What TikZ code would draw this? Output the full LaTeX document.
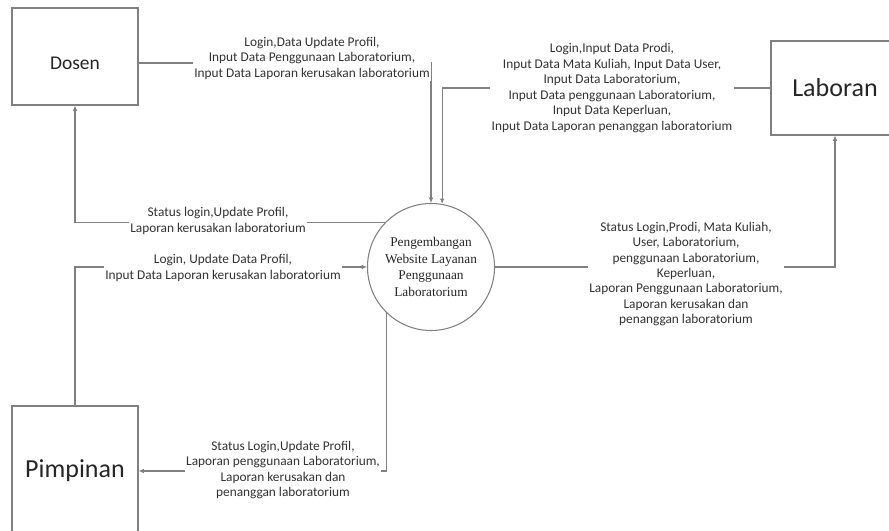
\documentclass[tikz,border=0pt]{standalone}
\usepackage{fontspec}
\setmainfont{Carlito}
\newfontfamily\procfont{Liberation Serif}
\usetikzlibrary{arrows.meta}

\begin{document}
\begin{tikzpicture}[x=0.75pt, y=-0.75pt,
    entity/.style={draw=black!50, line width=0.8pt, text=black!85},
    flow/.style={-{Latex[length=4pt,width=3.5pt]}, draw=black!50, line width=0.8pt},
    lbl/.style={fill=white, inner sep=1pt, align=center, text=black!80,
        font=\fontsize{10}{11.6}\selectfont}]
    \useasboundingbox (0,0) rectangle (889,531);

    % Entities
    \node[entity, minimum width=94.5pt, minimum height=72.75pt, text height=19pt, font=\fontsize{14.6}{17}\selectfont] (dosen) at (75,56.5) {Dosen};
    \node[entity, minimum width=96pt, minimum height=70.5pt, font=\fontsize{19.5}{23}\selectfont] (laboran) at (835,88) {Laboran};
    \node[entity, minimum width=94.5pt, minimum height=97.5pt, font=\fontsize{19.5}{23}\selectfont] (pimpinan) at (75,471) {Pimpinan};

    % Process
    \node[circle, draw=black!50, line width=0.8pt, minimum size=95.25pt, inner sep=0pt, align=center,
        text=black!85, font=\procfont\fontsize{10}{12.4}\selectfont] (proc) at (431,267)
        {Pengembangan\\Website Layanan\\Penggunaan\\Laboratorium};

    % Data flows
    \draw[flow] ([yshift=-4.9pt]dosen.east) -| (proc.north);
    \draw[flow] (laboran.west) -| (proc.80);
    \draw[flow] (proc.136) -| (dosen.south);
    \draw[flow] (pimpinan.north) |- (proc.west);
    \draw[flow] (proc.east) -| (laboran.south);
    \draw[flow] (proc.226) |- (pimpinan.east);

    % Flow labels
    \node[lbl] (dosenin) at (312,58) {Login,Data Update Profil,\\Input Data Penggunaan Laboratorium,\\Input Data Laporan kerusakan laboratorium};
    \node[lbl] (laboranin) at (612,88) {Login,Input Data Prodi,\\Input Data Mata Kuliah, Input Data User,\\Input Data Laboratorium,\\Input Data penggunaan Laboratorium,\\Input Data Keperluan,\\Input Data Laporan penanggan laboratorium};
    \node[lbl] (dosenout) at (218,221) {Status login,Update Profil,\\Laporan kerusakan laboratorium};
    \node[lbl] (pimpinanin) at (223,268) {Login, Update Data Profil,\\Input Data Laporan kerusakan laboratorium};
    \node[lbl] (laboranout) at (686,274) {Status Login,Prodi, Mata Kuliah,\\User, Laboratorium,\\penggunaan Laboratorium,\\Keperluan,\\Laporan Penggunaan Laboratorium,\\Laporan kerusakan dan\\penanggan laboratorium};
    \node[lbl] (pimpinanout) at (283,470) {Status Login,Update Profil,\\Laporan penggunaan Laboratorium,\\Laporan kerusakan dan\\penanggan laboratorium};
\end{tikzpicture}
\end{document}
